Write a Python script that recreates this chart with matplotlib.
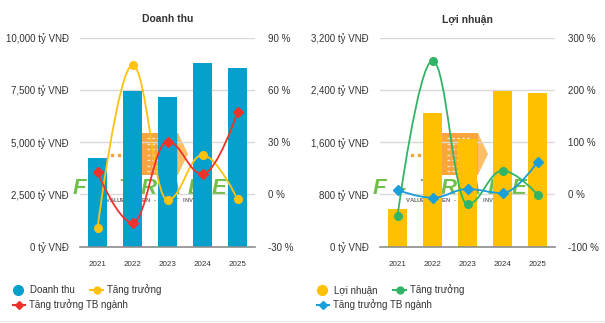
import numpy as np
import matplotlib
matplotlib.use("Agg")
import matplotlib.pyplot as plt
from matplotlib.path import Path
from matplotlib.patches import PathPatch, Polygon, Rectangle
from matplotlib.ticker import FuncFormatter

plt.rcParams['font.family'] = ['Liberation Sans', 'DejaVu Sans']

years = ["2021", "2022", "2023", "2024", "2025"]
revenue = [4250, 7470, 7180, 8800, 8540]
revenue_growth = [-19.5, 74.3, -3.2, 22.6, -2.8]
revenue_industry = [12.7, -16.2, 30.3, 11.7, 47.1]
profit = [573, 2042, 1644, 2389, 2349]
profit_growth = [-41.3, 255.9, -18.4, 45.4, -0.6]
profit_industry = [8.4, -6.3, 10.3, 2.7, 62.6]

rev_ticks = [0, 2500, 5000, 7500, 10000]
rev_pct_ticks = [-30, 0, 30, 60, 90]
prof_ticks = [0, 800, 1600, 2400, 3200]
prof_pct_ticks = [-100, 0, 100, 200, 300]

W, H = 605, 323
fig = plt.figure(figsize=(W / 100, H / 100), dpi=100)
fig.patch.set_facecolor('white')

# background axes in pixel coordinates (watermark + legend)
bg = fig.add_axes([0, 0, 1, 1], zorder=0)
bg.set_xlim(0, W)
bg.set_ylim(H, 0)
bg.axis('off')


def spline_path(x, y, smoothing=1.5):
    n = len(x)
    denom = smoothing + 1
    rc = [None] * n
    lc = [None] * n
    for i in range(1, n - 1):
        px, py = x[i], y[i]
        lx, ly = x[i - 1], y[i - 1]
        nx, ny = x[i + 1], y[i + 1]
        lcx = (smoothing * px + lx) / denom
        lcy = (smoothing * py + ly) / denom
        rcx = (smoothing * px + nx) / denom
        rcy = (smoothing * py + ny) / denom
        corr = 0
        if rcx != lcx:
            corr = (rcy - lcy) * (rcx - px) / (rcx - lcx) + py - rcy
        lcy += corr
        rcy += corr
        if lcy > ly and lcy > py:
            lcy = max(ly, py); rcy = 2 * py - lcy
        elif lcy < ly and lcy < py:
            lcy = min(ly, py); rcy = 2 * py - lcy
        if rcy > ny and rcy > py:
            rcy = max(ny, py); lcy = 2 * py - rcy
        elif rcy < ny and rcy < py:
            rcy = min(ny, py); lcy = 2 * py - rcy
        lc[i] = (lcx, lcy)
        rc[i] = (rcx, rcy)
    verts = [(x[0], y[0])]
    codes = [Path.MOVETO]
    for i in range(1, n):
        c1 = rc[i - 1] if rc[i - 1] else (x[i - 1], y[i - 1])
        c2 = lc[i] if lc[i] else (x[i], y[i])
        verts += [c1, c2, (x[i], y[i])]
        codes += [Path.CURVE4] * 3
    return Path(verts, codes)


def watermark(dx):
    # orange arrow block
    bg.add_patch(Rectangle((142 + dx, 133), 36, 42, color='#F7941D', alpha=0.85, lw=0))
    for k in range(7):
        yy = 138 + k * 5.5
        bg.plot([147 + dx, 170 + dx], [yy, yy], color='white', lw=1.0, alpha=0.7,
                dashes=(2, 1.5))
    bg.add_patch(Polygon([(178 + dx, 133), (188 + dx, 154), (178 + dx, 175)],
                         closed=True, color='#FBB040', alpha=0.8, lw=0))
    for k in range(4):
        bg.plot(112 + dx + k * 7, 155, 's', color='#F7941D', ms=1.5, alpha=0.8)
    letters = "F-TRADE"
    for k, ch in enumerate(letters):
        bg.text(79 + dx + k * 23.3, 188, ch, ha='center', va='center', fontsize=16,
                fontweight='bold', style='italic', color='#62B837', alpha=0.9)
    sub = "VALUE DRIVEN - SMART INVEST"
    for k, ch in enumerate(sub):
        bg.text(108 + dx + k * 3.6, 201, ch, ha='center', va='center',
                fontsize=4.3, fontweight='bold', color='#555555', alpha=0.85)


watermark(0)
watermark(300)

x = np.arange(len(years))


def make_chart(left_px, title, bars, bar_color, ticks, fmt_left, growth, gcolor,
               gmarker, industry, icolor, imarker, pct_ticks):
    ax = fig.add_axes([left_px / W, (H - 246.7) / H, 175 / W, 209 / H], zorder=1)
    ax.set_facecolor('none')
    ax.bar(x, bars, width=0.57, color=bar_color, zorder=2)
    ax.set_xlim(-0.5, len(years) - 0.5)
    ax.set_ylim(ticks[0], ticks[-1])
    ax.set_yticks(ticks)
    ax.yaxis.set_major_formatter(FuncFormatter(fmt_left))
    ax.set_xticks(x)
    ax.set_xticklabels(years)
    for t in ticks[1:]:
        ax.axhline(t, color='#d9d9d9', lw=1, zorder=0)
    ax.axhline(ticks[0], color='#8c8c8c', lw=1.2, zorder=3, clip_on=False)
    for s in ax.spines.values():
        s.set_visible(False)
    ax.tick_params(axis='y', length=0, pad=8, labelsize=7, labelcolor='#333333')
    ax.tick_params(axis='x', length=0, pad=10, labelsize=5.8, labelcolor='#333333')
    ax.set_title(title, fontsize=7.5, fontweight='bold', color='#333333', pad=11)

    ax2 = ax.twinx()
    ax2.set_zorder(2)
    ax2.set_facecolor('none')
    ax2.set_ylim(pct_ticks[0], pct_ticks[-1])
    ax2.set_yticks(pct_ticks)
    ax2.yaxis.set_major_formatter(FuncFormatter(lambda v, p: f"{int(v)} %"))
    for s in ax2.spines.values():
        s.set_visible(False)
    ax2.tick_params(axis='y', length=0, pad=9, labelsize=7, labelcolor='#333333')

    for vals, col, mk, ms in [(growth, gcolor, gmarker, 5.5), (industry, icolor, imarker, 5)]:
        p = spline_path(list(x.astype(float)), list(vals))
        ax2.add_patch(PathPatch(p, facecolor='none', edgecolor=col, lw=1.3, zorder=3))
        ax2.plot(x, vals, linestyle='none', marker=mk, color=col, ms=ms, zorder=4)
    return ax


make_chart(80, "Doanh thu", revenue, '#06A0CC', rev_ticks,
           lambda v, p: f"{int(v):,} tỷ VNĐ", revenue_growth, '#FFC20E', 'o',
           revenue_industry, '#F0332A', 'D', rev_pct_ticks)
make_chart(380, "Lợi nhuận", profit, '#FFC000', prof_ticks,
           lambda v, p: f"{int(v):,} tỷ VNĐ", profit_growth, '#32B466', 'o',
           profit_industry, '#1A9FD8', 'D', prof_pct_ticks)


# legends (pixel coords)
def legend_circle(cx, cy, col, label):
    bg.plot(cx, cy, 'o', color=col, ms=7)
    bg.text(cx + 12, cy, label, ha='left', va='center', fontsize=7, color='#333333')


def legend_line(x0, x1, cy, col, mk, label, ms=5):
    bg.plot([x0, x1], [cy, cy], color=col, lw=1.5)
    bg.plot((x0 + x1) / 2, cy, marker=mk, color=col, ms=ms)
    bg.text(x1 + 4, cy, label, ha='left', va='center', fontsize=7, color='#333333')


legend_circle(18, 290, '#06A0CC', "Doanh thu")
legend_line(90, 103, 290, '#FFC20E', 'o', "Tăng trưởng")
legend_line(13, 25, 305, '#F0332A', 'D', "Tăng trưởng TB ngành", ms=4)

legend_circle(322, 290, '#FFC000', "Lợi nhuận")
legend_line(393, 406, 290, '#32B466', 'o', "Tăng trưởng")
legend_line(317, 329, 305, '#1A9FD8', 'D', "Tăng trưởng TB ngành", ms=4)

bg.plot([0, W], [321, 321], color='#e6e6e6', lw=0.8)

fig.savefig("out.png", dpi=100)
